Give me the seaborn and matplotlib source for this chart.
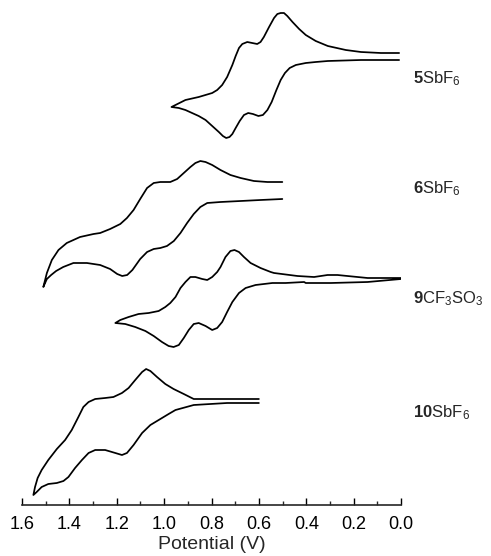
import numpy as np
import pandas as pd
import matplotlib
matplotlib.use("Agg")
import matplotlib.pyplot as plt
import seaborn as sns

# ---------------- data (potential in V, current offset in arbitrary units) ----------------
# 5SbF6 : upper branch (0.0 V -> turning point), lower branch (turning point -> 0.0 V)
v5_up = [0.008, 0.085, 0.169, 0.233, 0.309, 0.360, 0.374, 0.402, 0.430, 0.458, 0.480, 0.494, 0.508,
         0.522, 0.536, 0.557, 0.579, 0.593, 0.607, 0.628, 0.649, 0.670, 0.684, 0.698, 0.712, 0.734,
         0.755, 0.776, 0.797, 0.854, 0.910, 0.969]
i5_up = [452, 452, 453, 455, 459, 464, 466, 470, 476, 483, 489, 492, 492,
         491, 487, 478, 468, 463, 461, 462, 463, 461, 457, 449, 440, 428,
         420, 415, 412, 408, 405, 398]
v5_lo = [0.938, 0.910, 0.882, 0.854, 0.825, 0.797, 0.769, 0.752, 0.738, 0.724, 0.712, 0.698, 0.681,
         0.663, 0.645, 0.625, 0.602, 0.583, 0.564, 0.546, 0.526, 0.508, 0.490, 0.470, 0.444, 0.402,
         0.360, 0.309, 0.169, 0.008]
i5_lo = [397, 395, 392, 389, 385, 379, 373, 369, 367, 368, 371, 377, 384,
         390, 392, 391, 389, 390, 395, 403, 415, 425, 432, 437, 440, 442,
         443, 444, 445, 445]

# 6SbF6
v6_up = [0.501, 0.564, 0.621, 0.677, 0.720, 0.762, 0.797, 0.825, 0.847, 0.868, 0.889, 0.917, 0.945,
         0.974, 1.016, 1.044, 1.072, 1.101, 1.129, 1.157, 1.185, 1.228, 1.270, 1.298, 1.355, 1.411,
         1.446, 1.474, 1.495, 1.510]
i6_up = [323, 323, 324, 327, 330, 335, 340, 343, 344, 342, 338, 332, 326,
         323, 323, 322, 317, 306, 295, 287, 281, 276, 272, 271, 268, 262,
         255, 245, 232, 218]
v6_lo = [1.495, 1.477, 1.456, 1.426, 1.383, 1.326, 1.270, 1.228, 1.198, 1.177, 1.156, 1.134, 1.101,
         1.072, 1.044, 1.016, 0.988, 0.959, 0.931, 0.903, 0.875, 0.847, 0.818, 0.762, 0.677, 0.593,
         0.501]
i6_lo = [226, 230, 234, 238, 242, 242, 240, 236, 231, 229, 230, 235, 246,
         253, 256, 257, 259, 264, 272, 282, 291, 298, 302, 303, 304, 305,
         306]

# 9CF3SO3
v9_up = [0.000, 0.141, 0.226, 0.268, 0.310, 0.367, 0.437, 0.536, 0.550, 0.593, 0.635, 0.663, 0.684,
         0.703, 0.720, 0.741, 0.762, 0.776, 0.797, 0.818, 0.839, 0.868, 0.889, 0.910, 0.931, 0.952,
         0.974, 0.995, 1.023, 1.065, 1.108, 1.150, 1.185, 1.206]
i9_up = [227, 227, 229, 230, 230, 228, 229, 232, 233, 237, 242, 248, 253,
         255, 254, 248, 238, 233, 228, 225, 226, 228, 228, 223, 217, 208,
         202, 198, 194, 192, 191, 188, 185, 182]
v9_lo = [1.164, 1.122, 1.079, 1.044, 1.009, 0.981, 0.960, 0.938, 0.917, 0.896, 0.875, 0.854, 0.825,
         0.797, 0.776, 0.755, 0.734, 0.712, 0.684, 0.656, 0.614, 0.543, 0.487, 0.409, 0.402, 0.296,
         0.141, 0.000]
i9_lo = [181, 178, 174, 169, 163, 159, 158, 160, 167, 175, 181, 182, 179,
         175, 177, 183, 193, 203, 212, 217, 220, 222, 222, 223, 222, 222,
         223, 226]

# 10SbF6
v10_up = [0.600, 0.741, 0.875, 0.917, 0.960, 0.995, 1.030, 1.058, 1.076, 1.093, 1.122, 1.150, 1.178,
          1.214, 1.249, 1.291, 1.319, 1.341, 1.362, 1.390, 1.418, 1.453, 1.489, 1.517, 1.534, 1.545,
          1.552]
i10_up = [106, 106, 106, 111, 116, 121, 128, 134, 136, 133, 125, 117, 112,
          108, 107, 106, 103, 98, 88, 75, 65, 56, 45, 35, 27, 18,
          10]
v10_lo = [1.538, 1.517, 1.489, 1.453, 1.425, 1.404, 1.376, 1.347, 1.319, 1.291, 1.249, 1.206, 1.178,
          1.157, 1.129, 1.093, 1.058, 1.023, 0.981, 0.952, 0.875, 0.734, 0.600]
i10_lo = [13, 18, 21, 22, 24, 28, 37, 45, 52, 55, 55, 52, 50,
          52, 60, 72, 80, 85, 91, 95, 100, 102, 102]

compounds = ["5SbF6", "6SbF6", "9CF3SO3", "10SbF6"]
label_texts = [r"$\mathbf{5}\mathrm{SbF}_{6}$", r"$\mathbf{6}\mathrm{SbF}_{6}$",
               r"$\mathbf{9}\mathrm{CF}_{3}\mathrm{SO}_{3}$", r"$\mathbf{10}\mathrm{SbF}_{6}$"]
label_levels = [422, 312, 202, 88]

tick_values = [1.6, 1.4, 1.2, 1.0, 0.8, 0.6, 0.4, 0.2, 0.0]
tick_labels = ["1.6", "1.4", "1.2", "1.0", "0.8", "0.6", "0.4", "0.2", "0.0"]

# ---------------- build table ----------------
curves = {
    "5SbF6": (v5_up + v5_lo, i5_up + i5_lo),
    "6SbF6": (v6_up + v6_lo, i6_up + i6_lo),
    "9CF3SO3": (v9_up + v9_lo, i9_up + i9_lo),
    "10SbF6": (v10_up + v10_lo, i10_up + i10_lo),
}
rows = []
for name in compounds:
    vv, ii = curves[name]
    for k, (v, i) in enumerate(zip(vv, ii)):
        rows.append({"compound": name, "order": k, "potential": v, "current": i})
df = pd.DataFrame(rows)

# ---------------- style ----------------
sns.set_style("ticks")
plt.rcParams["font.family"] = ["Liberation Sans", "DejaVu Sans"]
plt.rcParams["mathtext.fontset"] = "custom"
plt.rcParams["mathtext.rm"] = "Liberation Sans"
plt.rcParams["mathtext.bf"] = "Liberation Sans:bold"
plt.rcParams["mathtext.it"] = "Liberation Sans:italic"
plt.rcParams["lines.solid_joinstyle"] = "round"
plt.rcParams["lines.solid_capstyle"] = "round"

fig = plt.figure(figsize=(4.91, 5.56), dpi=100)
ax = fig.add_axes([22 / 491, 51 / 556, 379 / 491, 505 / 556])

for name in compounds:
    sub = df[df["compound"] == name]
    sns.lineplot(data=sub, x="potential", y="current", sort=False, estimator=None,
                 color="black", linewidth=1.25, ax=ax, legend=False)

ax.set_xlim(1.6, 0.0)
ax.set_ylim(0, 505)

for txt, lvl in zip(label_texts, label_levels):
    ax.text(-0.051, lvl, txt, fontsize=12, ha="left", va="baseline", clip_on=False)

for s in ["left", "top", "right"]:
    ax.spines[s].set_visible(False)
ax.spines["bottom"].set_linewidth(1.2)
ax.set_yticks([])
ax.set_ylabel("")
ax.set_xticks(tick_values)
ax.set_xticklabels(tick_labels)
ax.set_xticks(np.arange(0.1, 1.6, 0.2), minor=True)
ax.tick_params(axis="x", which="major", direction="in", length=5, width=1.0,
               labelsize=13, pad=8, colors="black")
ax.tick_params(axis="x", which="minor", direction="in", length=3, width=1.0)
ax.set_xlabel("Potential (V)", fontsize=14, labelpad=2)
ax.patch.set_alpha(0)

fig.savefig("out.png", dpi=100)
